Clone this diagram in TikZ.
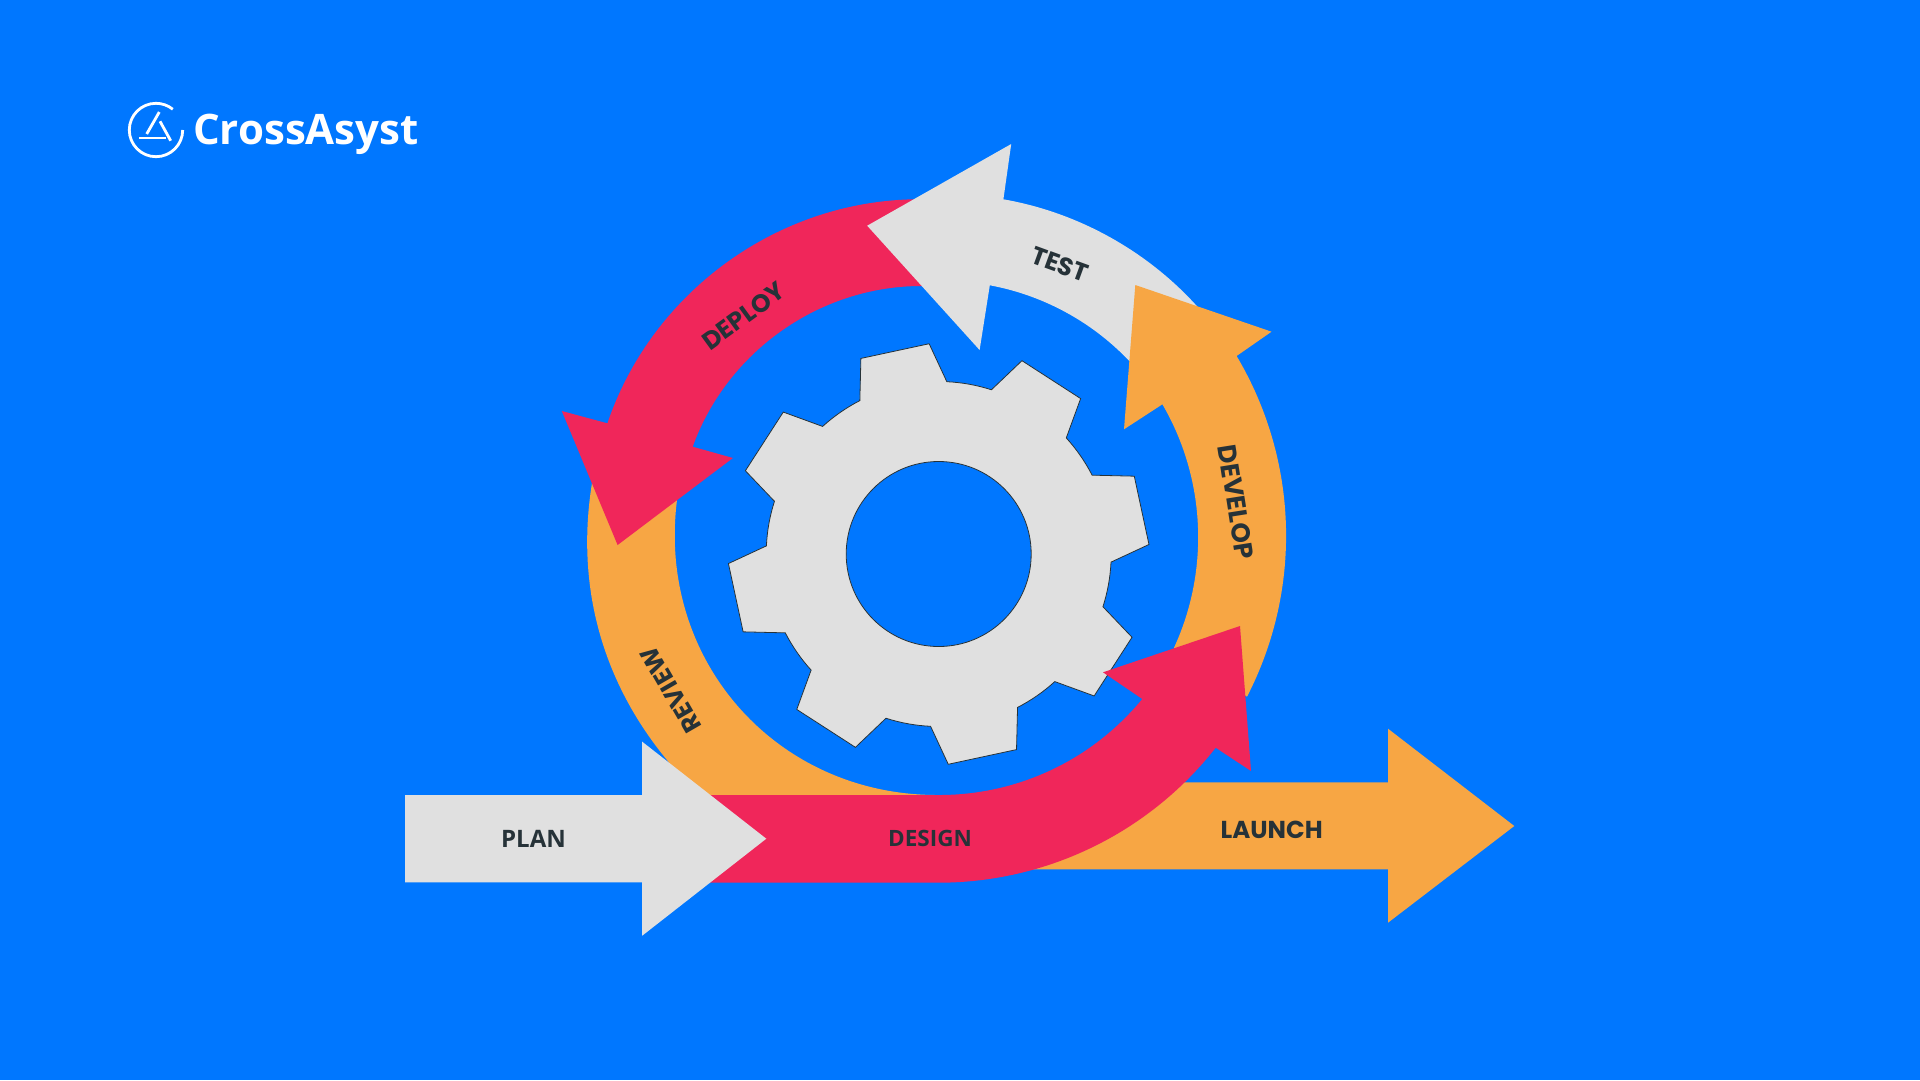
\documentclass[tikz,border=0pt]{standalone}
\usepackage{fontspec}
\setmainfont{Poppins}
\newfontfamily\opensans{Open Sans}
\usetikzlibrary{calc}
\definecolor{bgblue}{HTML}{0077FF}
\definecolor{ringred}{HTML}{F0265A}
\definecolor{ringorange}{HTML}{F7A644}
\definecolor{ringgrey}{HTML}{E0E0E0}
\definecolor{inkdark}{HTML}{263238}
\def\rdbody{172.5}
\def\rdtooth{210.5}
\def\rdhole{92.5}
\tikzset{
  steplabel/.style = {text = inkdark, inner sep = 0, font = \fontsize{25}{25}\selectfont\bfseries},
  planlabel/.style = {text = inkdark, inner sep = 0, font = \fontsize{22.5}{22.5}\selectfont\opensans\bfseries},
  logoline/.style = {draw = white, line width = 2.8 pt}
}

\begin{document}
\begin{tikzpicture} [x = 1 pt, y = - 1 pt]
    \fill[bgblue] (0, 0) rectangle (1920, 1080);
    \coordinate (o) at (938.7, 554);

    % logo
    \coordinate (l) at (156, 130);
    \coordinate (la) at (159.3, 112);
    \coordinate (lb) at (146.7, 134);
    \coordinate (lc) at (160, 121.3);
    \coordinate (ld) at (170.7, 140.7);
    \coordinate (le) at (139, 138);
    \coordinate (lf) at (165.7, 138);
    \draw[logoline] (l) +(0:26.7) arc (0:309:26.7);
    \draw[logoline] (la) -- (lb);
    \draw[logoline] (lc) -- (ld);
    \draw[logoline] (le) -- (lf);
    \node[anchor = base west, inner sep = 0, text = white,
      font = \fontsize{42}{42}\selectfont\opensans\bfseries] (logo) at (193, 144.3) {CrossAsyst};

    % review and launch
    \fill[ringorange]
         (592, 483) -- (640, 470) -- (677, 500)
      to[bend right = 48.5, looseness = 1.05] (936, 795)
      -- (936, 840) -- (700, 840) -- (668.4, 761.7)
      to[bend left = 24.5, looseness = 0.92] cycle;
    \fill[ringorange]
         (1030, 782.3) -- (1388, 782.3) -- (1388, 728.7) -- (1514.3, 826)
      -- (1388, 922.7) -- (1388, 869.3) -- (1030, 869.3) -- cycle;

    % deploy
    \fill[ringred]
         (940, 198) -- (913.2, 199.3)
      to[bend right = 35, looseness = 0.93] (607.4, 423.3)
      -- (561.8, 411) -- (617.6, 545) -- (732.9, 458) -- (692.7, 446.7)
      to[bend left = 35, looseness = 0.93] (920.5, 286)
      -- (940, 286) -- cycle;

    % test
    \fill[ringgrey]
         (867.2, 225.7) -- (1011.2, 144) -- (1003.4, 199.3)
      to[bend left = 19, looseness = 0.87] (1196.8, 306)
      -- (1190, 340) -- (1140, 370) -- (1129, 360.7)
      to[bend right = 18, looseness = 0.87] (989.8, 285.3)
      -- (979.6, 350) -- cycle;

    % develop
    \fill[ringorange]
         (1135.3, 285) -- (1271.5, 331.7) -- (1236.6, 356)
      to[bend left = 29, looseness = 0.91] (1247, 696.7)
      -- (1174, 647.7)
      to[bend right = 27.5, looseness = 0.9] (1162.4, 404.3)
      -- (1124, 429.3) -- cycle;

    % gear
    \draw[fill = ringgrey, draw = inkdark, line width = 0.8 pt, even odd rule]
      (o) ++(-117.2:\rdbody)
      \foreach \a in {0, 45, ..., 315} {
        -- ($(o) + ({\a - 111.7}:\rdtooth)$)
        -- ($(o) + ({\a - 92.6}:\rdtooth)$)
        -- ($(o) + ({\a - 87.3}:\rdbody)$)
        arc ({\a - 87.3}:{\a - 72.2}:\rdbody)
      } -- cycle
      (o) circle (\rdhole);

    % design
    \fill[ringred]
         (700, 795) -- (937, 795)
      to[bend right = 25.5, looseness = 0.9] (1142.3, 699)
      -- (1103, 672.3) -- (1240, 626) -- (1251, 771) -- (1215.7, 747.7)
      to[bend left = 26, looseness = 0.9] (937.4, 882.7)
      -- (700, 882.7) -- cycle;

    % plan
    \fill[ringgrey]
         (405.2, 795) -- (642.2, 795) -- (642.2, 741.7) -- (766.3, 838.7)
      -- (642.2, 935.7) -- (642.2, 882.3) -- (405.2, 882.3) -- cycle;

    \node[planlabel, font = \fontsize{24}{24}\selectfont\opensans\bfseries] (plan) at (533.5, 838.7) {PLAN};
    \node[planlabel] (design) at (930, 838.7) {DESIGN};
    \node[steplabel, font = \fontsize{24.5}{24.5}\selectfont\bfseries] (launch) at (1271.7, 830) {LAUNCH};
    \node[steplabel, rotate = 120] (review) at (670.8, 690) {REVIEW};
    \node[steplabel, rotate = 36] (deploy) at (743.6, 316) {DEPLOY};
    \node[steplabel, rotate = - 20] (test) at (1059.6, 264.5) {TEST};
    \node[steplabel, font = \fontsize{26}{26}\selectfont\bfseries, rotate = - 81] (develop) at (1236, 502) {DEVELOP};
  \end{tikzpicture}
\end{document}
